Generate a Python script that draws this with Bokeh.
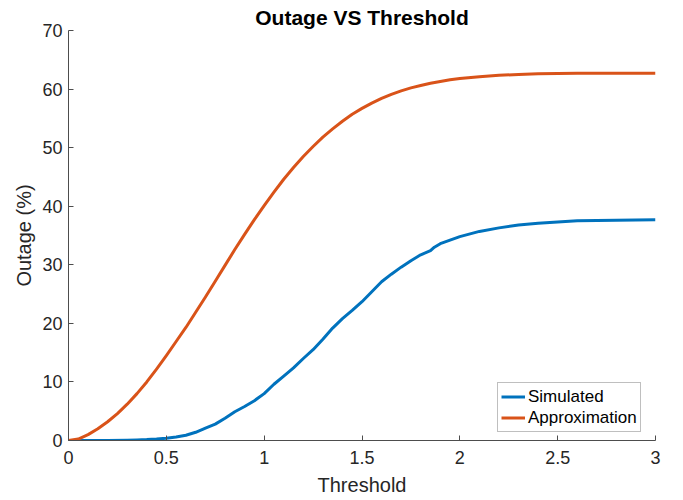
from bokeh.plotting import figure
from bokeh.models import FixedTicker, NumeralTickFormatter, Legend, LegendItem, Range1d
from bokeh.embed import file_html
from bokeh.resources import INLINE

# ---- data ----
sim_x = [0, 0.1, 0.2, 0.3, 0.35, 0.4, 0.45, 0.5, 0.55, 0.6, 0.65, 0.7, 0.75, 0.8, 0.85,
         0.9, 0.95, 1.0, 1.05, 1.1, 1.15, 1.2, 1.25, 1.3, 1.35, 1.4, 1.45, 1.5,
         1.55, 1.6, 1.65, 1.7, 1.75, 1.8, 1.85, 1.87, 1.9, 1.95, 2.0, 2.1, 2.2,
         2.3, 2.4, 2.5, 2.6, 2.8, 3.0]
sim_y = [0, 0, 0, 0.05, 0.1, 0.15, 0.25, 0.4, 0.6, 0.9, 1.4, 2.1, 2.8, 3.8, 4.9,
         5.8, 6.8, 8.0, 9.6, 11.0, 12.4, 14.0, 15.5, 17.3, 19.2, 20.8, 22.2, 23.7,
         25.4, 27.1, 28.4, 29.6, 30.7, 31.7, 32.4, 33.0, 33.6, 34.2, 34.8, 35.7, 36.3,
         36.8, 37.1, 37.3, 37.5, 37.6, 37.7]

apx_x = [0, 0.05, 0.1, 0.15, 0.2, 0.25, 0.3, 0.35, 0.4, 0.45, 0.5, 0.55, 0.6, 0.65,
         0.7, 0.75, 0.8, 0.85, 0.9, 0.95, 1.0, 1.05, 1.1, 1.15, 1.2, 1.25, 1.3, 1.35,
         1.4, 1.45, 1.5, 1.55, 1.6, 1.65, 1.7, 1.75, 1.8, 1.85, 1.9, 1.95, 2.0, 2.1,
         2.2, 2.3, 2.4, 2.5, 2.6, 2.8, 3.0]
apx_y = [0, 0.25, 1.0, 2.0, 3.2, 4.6, 6.2, 8.0, 10.0, 12.2, 14.5, 16.9, 19.3, 21.9,
         24.5, 27.2, 29.9, 32.6, 35.2, 37.7, 40.1, 42.4, 44.6, 46.6, 48.5, 50.2, 51.8, 53.2,
         54.5, 55.7, 56.7, 57.6, 58.4, 59.1, 59.7, 60.2, 60.6, 61.0, 61.3, 61.6, 61.8, 62.1,
         62.35, 62.5, 62.6, 62.65, 62.7, 62.7, 62.7]

x_ticks = [0, 0.5, 1, 1.5, 2, 2.5, 3]
y_ticks = [0, 10, 20, 30, 40, 50, 60, 70]

title_text = "Outage VS Threshold"
x_label = "Threshold"
y_label = "Outage (%)"
series_names = ["Simulated", "Approximation"]
series_colors = ["#0072BD", "#D95319"]

FONT = "Liberation Sans"
AX = "#262626"

p = figure(width=683, height=500, output_backend="svg", toolbar_location=None,
           x_range=Range1d(0, 3), y_range=Range1d(0, 70),
           min_border_left=68, min_border_right=28, min_border_top=30, min_border_bottom=60)

p.title.text = title_text
p.title.align = "center"
p.title.text_font = FONT
p.title.text_font_size = "21px"
p.title.text_font_style = "bold"
p.title.text_color = "#000000"
p.title.standoff = 4
p.title.offset = 0

p.outline_line_color = None
p.xgrid.visible = False
p.ygrid.visible = False
p.background_fill_color = "white"
p.border_fill_color = "white"

for ax in (p.xaxis[0], p.yaxis[0]):
    ax.axis_line_color = "#4d4d4d"
    ax.axis_line_width = 1
    ax.major_tick_line_color = "#4d4d4d"
    ax.major_tick_in = 5
    ax.major_tick_out = 0
    ax.minor_tick_line_color = None
    ax.major_label_text_font = FONT
    ax.major_label_text_font_size = "18px"
    ax.major_label_text_color = AX
    ax.axis_label_text_font = FONT
    ax.axis_label_text_font_size = "20px"
    ax.axis_label_text_font_style = "normal"
    ax.axis_label_text_color = AX

p.xaxis.ticker = FixedTicker(ticks=x_ticks)
p.yaxis.ticker = FixedTicker(ticks=y_ticks)
p.xaxis.formatter = NumeralTickFormatter(format="0.[0]")
p.yaxis.formatter = NumeralTickFormatter(format="0")
p.xaxis.axis_label = x_label
p.yaxis.axis_label = y_label
p.xaxis.major_label_standoff = 10
p.xaxis.axis_label_standoff = 7
p.yaxis.major_label_standoff = 6
p.yaxis.axis_label_standoff = 4

r1 = p.line(sim_x, sim_y, line_color=series_colors[0], line_width=3, line_join="round")
r2 = p.line(apx_x, apx_y, line_color=series_colors[1], line_width=3, line_join="round")

legend = Legend(items=[LegendItem(label=series_names[0], renderers=[r1]),
                       LegendItem(label=series_names[1], renderers=[r2])],
                location=(429, 8))
legend.margin = 0
legend.padding = 3
legend.spacing = 0
legend.label_height = 21
legend.glyph_height = 21
legend.glyph_width = 24
legend.label_standoff = 3
legend.label_text_font = FONT
legend.label_text_font_size = "17px"
legend.label_text_color = "#000000"
legend.border_line_color = "#7f7f7f"
legend.border_line_width = 1
legend.background_fill_color = "white"
legend.background_fill_alpha = 1
p.add_layout(legend, "center")

open("out.html", "w").write(file_html(p, INLINE))
